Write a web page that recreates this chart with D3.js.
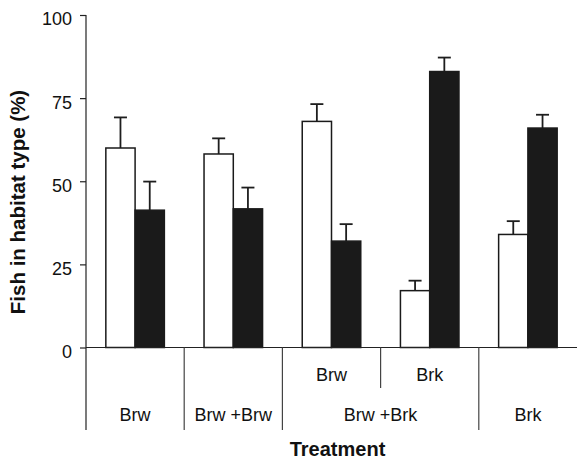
<!DOCTYPE html>
<html>
<head>
<meta charset="utf-8">
<script src="https://cdn.jsdelivr.net/npm/d3@7"></script>
<style>
  html, body { margin: 0; padding: 0; background: #fff; }
  svg { display: block; font-family: "Liberation Sans", Arial, Helvetica, sans-serif; }
</style>
</head>
<body>
<svg id="chart" width="577" height="459"></svg>
<script>
// ---- data ----
const categories = ["Brw", "Brw+Brw", "Brw+Brk:Brw", "Brw+Brk:Brk", "Brk"];
const openValues = [60, 58.2, 68, 17.1, 34];
const openErrors = [9.2, 4.7, 5.2, 3.0, 4.0];
const filledValues = [41.3, 41.7, 32, 83, 66];
const filledErrors = [8.6, 6.4, 5.1, 4.2, 4.0];
const yTicks = [0, 25, 50, 75, 100];
const subLabels = ["", "", "Brw", "Brk", ""];
const treatmentLabels = ["Brw", "Brw +Brw", "Brw +Brk", "Brk"];
const treatmentSpans = [[0, 1], [1, 2], [2, 4], [4, 5]]; // category index ranges
const yTitle = "Fish in habitat type (%)";
const xTitle = "Treatment";

// ---- layout ----
const svg = d3.select("#chart");
const mLeft = 86, mRight = 577, mTop = 15, mBase = 347.5, mBottomLine = 430;

const y = d3.scaleLinear().domain([0, 100]).range([mBase, mTop]);
const x = d3.scaleBand().domain(categories).range([mLeft, mRight]);
const barW = x.bandwidth() * 0.298;
const sub = d3.scaleBand().domain(["open", "filled"]).range([-barW, barW]);

const rows = categories.map((c, i) => [
  { cat: c, kind: "open", v: openValues[i], e: openErrors[i] },
  { cat: c, kind: "filled", v: filledValues[i], e: filledErrors[i] }
]).flat();

// error bars
const errG = svg.append("g").attr("stroke", "#1e1e1e").attr("stroke-width", 1.8);
rows.forEach(d => {
  const cx = x(d.cat) + x.bandwidth() / 2 + sub(d.kind) + sub.bandwidth() / 2;
  errG.append("line").attr("x1", cx).attr("x2", cx).attr("y1", y(d.v)).attr("y2", y(d.v + d.e));
  errG.append("line").attr("x1", cx - 6.5).attr("x2", cx + 6.5).attr("y1", y(d.v + d.e)).attr("y2", y(d.v + d.e));
});

// bars
svg.append("g").selectAll("rect").data(rows).join("rect")
  .attr("x", d => x(d.cat) + x.bandwidth() / 2 + sub(d.kind))
  .attr("y", d => y(d.v))
  .attr("width", sub.bandwidth())
  .attr("height", d => y(0) - y(d.v))
  .attr("fill", d => d.kind === "open" ? "#ffffff" : "#1a1a1a")
  .attr("stroke", "#1a1a1a")
  .attr("stroke-width", 1.5);

// y axis
const yAxis = d3.axisLeft(y).tickValues(yTicks).tickSize(6).tickSizeOuter(0).tickPadding(8);
const gy = svg.append("g").attr("transform", `translate(${mLeft},0)`).call(yAxis);
gy.select(".domain").remove();
gy.selectAll(".tick line").attr("stroke", "#222").attr("stroke-width", 1.2);
gy.selectAll(".tick text").attr("font-size", 18).attr("fill", "#111").attr("dy", "0.55em")
  .attr("font-family", "'Liberation Sans', Arial, sans-serif");
svg.append("line").attr("x1", mLeft).attr("x2", mLeft).attr("y1", mTop).attr("y2", mBottomLine)
  .attr("stroke", "#222").attr("stroke-width", 1.2);

// x baseline
svg.append("line").attr("x1", mLeft).attr("x2", mRight).attr("y1", y(0)).attr("y2", y(0))
  .attr("stroke", "#222").attr("stroke-width", 1.2);

// separators between treatments
const bandEdge = i => i < categories.length ? x(categories[i]) : mRight;
treatmentSpans.forEach(s => {
  if (s[1] < categories.length) {
    svg.append("line").attr("x1", bandEdge(s[1])).attr("x2", bandEdge(s[1]))
      .attr("y1", y(0)).attr("y2", mBottomLine).attr("stroke", "#444").attr("stroke-width", 1.2);
  }
});
// short separator between sub labels
treatmentSpans.forEach(s => {
  for (let i = s[0] + 1; i < s[1]; i++) {
    svg.append("line").attr("x1", bandEdge(i)).attr("x2", bandEdge(i))
      .attr("y1", y(0)).attr("y2", 388).attr("stroke", "#444").attr("stroke-width", 1.2);
  }
});

// sub labels
svg.append("g").selectAll("text").data(categories).join("text")
  .attr("x", d => x(d) + x.bandwidth() / 2)
  .attr("y", 380.5)
  .attr("text-anchor", "middle")
  .attr("font-size", 18).attr("fill", "#111")
  .text((d, i) => subLabels[i]);

// treatment labels
svg.append("g").selectAll("text").data(treatmentLabels).join("text")
  .attr("x", (d, i) => (bandEdge(treatmentSpans[i][0]) + bandEdge(treatmentSpans[i][1])) / 2)
  .attr("y", 420.5)
  .attr("text-anchor", "middle")
  .attr("font-size", 18).attr("fill", "#111")
  .text(d => d);

// axis titles
svg.append("text")
  .attr("x", (mLeft + mRight) / 2 + 6).attr("y", 456)
  .attr("text-anchor", "middle").attr("font-size", 20).attr("font-weight", "bold").attr("fill", "#111")
  .text(xTitle);
svg.append("text")
  .attr("transform", "translate(25,202) rotate(-90)")
  .attr("text-anchor", "middle").attr("font-size", 20.5).attr("font-weight", "bold").attr("fill", "#111")
  .text(yTitle);
</script>
</body>
</html>
